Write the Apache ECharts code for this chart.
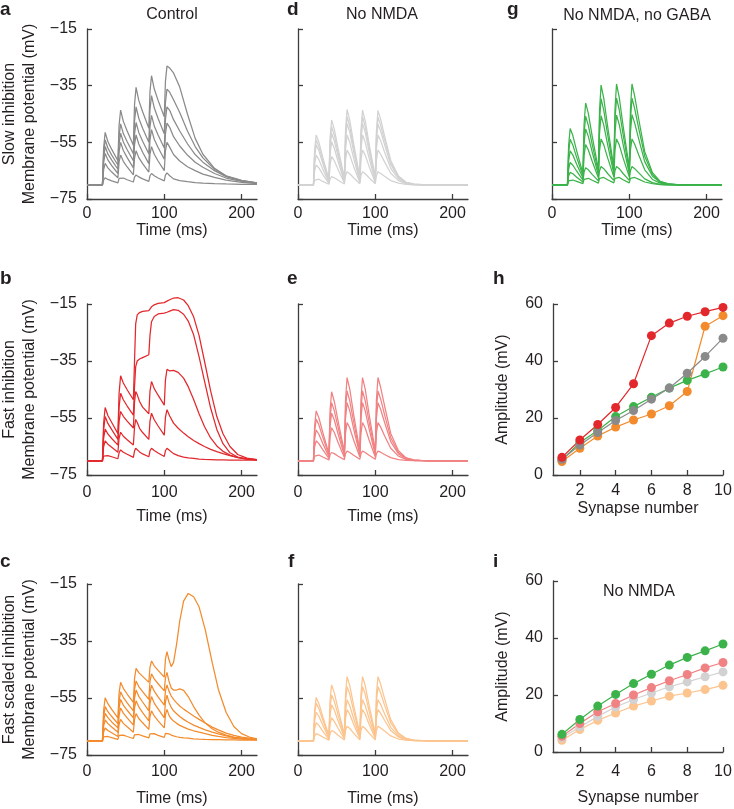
<!DOCTYPE html>
<html>
<head>
<meta charset="utf-8">
<script src="https://cdn.jsdelivr.net/npm/echarts@6/dist/echarts.min.js"></script>
<style>
html,body{margin:0;padding:0;background:#fff;}
#chart{width:734px;height:809px;}
</style>
</head>
<body>
<div id="chart"></div>
<script>
// ---------------- DATA ----------------
const TIME_STD = [0,20,21.5,23.5,27,32,40,41.5,43.5,47,52,60,61.5,63.5,67,72,80,81.5,83.5,87,92,100,101.5,103.5,107,112,120,130,140,150,165,180,200,220];
const TIME_B = [0,20,21.5,23.5,27,32,40,41.5,43.5,47,52,60,61.5,63,65,68,72,80,81.5,83.5,87,92,100,101.5,103.5,107,112,118,125,131,138,145,152,160,168,176,185,195,207,220];
const TIME_C = [0,20,21.5,23.5,27,32,40,41.5,43.5,47,52,60,61.5,63.5,67,72,80,81.5,83.5,87,92,100,101.5,103.5,106,109,112,116,120,125,131,138,145,153,162,170,180,190,200,210,220];

// a: Control, slow inhibition
const TRACES_A = [
  [-70,-70,-68.3,-67.5,-68.1,-68.6,-69.3,-67.7,-67,-67.6,-68.2,-69,-67.3,-66.5,-67.2,-67.9,-68.8,-66.8,-66,-66.8,-67.6,-68.6,-66.6,-65.8,-66.8,-67.9,-68.5,-68.9,-69.2,-69.4,-69.6,-69.7,-69.8,-69.8],
  [-70,-70,-64.7,-62.4,-64,-65.5,-67.5,-61.9,-59.5,-61.7,-63.7,-66.5,-60.6,-58,-60.4,-62.5,-65.5,-59.2,-56.5,-59.2,-61.6,-65,-58,-55,-56.7,-59.3,-61.6,-63.6,-65,-66.2,-67.4,-68.3,-69.1,-69.6],
  [-70,-70,-62.2,-58.9,-61.2,-63.2,-66,-58.3,-55,-57.9,-60.4,-64,-55.9,-52.4,-55.6,-58.5,-62.5,-54.1,-50.5,-53.9,-56.8,-61,-52,-48.2,-49.7,-53,-56.3,-59.5,-62,-63.8,-66,-67.6,-68.8,-69.5],
  [-70,-70,-60.6,-56.5,-59.1,-61.3,-64.5,-55.6,-51.8,-54.9,-57.6,-61.5,-52.1,-48,-51.5,-54.6,-59,-49.6,-45.5,-49.2,-52.4,-57,-46.9,-42.5,-43.7,-47,-51,-55.5,-59.3,-62,-65,-67.1,-68.6,-69.4],
  [-70,-70,-58.9,-54.2,-57,-59.5,-63,-52.9,-48.5,-51.9,-54.8,-59,-47.5,-42.5,-46.5,-50,-55,-43.5,-38.5,-42.8,-46.6,-52,-40.9,-36.2,-37.3,-40,-44.5,-51,-56.5,-60.5,-64.5,-66.9,-68.5,-69.3],
  [-70,-70,-57.1,-51.5,-54.7,-57.5,-61.5,-49,-43.6,-47.6,-51,-56,-41.7,-35.6,-40.2,-44.2,-50,-37.1,-31.5,-36.1,-40.2,-46,-33.5,-28.1,-28.8,-30.5,-35.5,-45,-53.6,-59.2,-64.2,-66.8,-68.4,-69.3]
];
// d: No NMDA, slow inhibition
const TRACES_D = [
  [-70,-70,-68.4,-67.7,-68,-68.8,-69.8,-67.9,-67.1,-67.5,-68.4,-69.7,-66.7,-65.4,-66.1,-67.5,-69.6,-66.7,-65.4,-66.1,-67.5,-69.6,-66.7,-65.4,-66,-67,-68.5,-69.4,-69.8,-70,-70,-70,-70,-70],
  [-70,-70,-65.1,-63,-64,-66.3,-69.5,-62.9,-60,-61.5,-64.7,-69.3,-61.2,-57.7,-59.5,-63.5,-69.2,-61.2,-57.7,-59.5,-63.5,-69.2,-61.2,-57.7,-59.2,-61.9,-65.9,-68.5,-69.6,-69.9,-70,-70,-70,-70],
  [-70,-70,-62.7,-59.5,-61.1,-64.4,-69.2,-59.1,-54.8,-57.1,-61.9,-68.9,-57.4,-52.4,-55,-60.6,-68.8,-57.3,-52.4,-55,-60.6,-68.8,-57.3,-52.4,-54.5,-58.4,-64.2,-67.9,-69.4,-69.8,-70,-70,-70,-70],
  [-70,-70,-60.1,-55.9,-58,-62.4,-68.8,-56.9,-51.8,-54.5,-60.1,-68.4,-54.3,-48.3,-51.5,-58.3,-68.2,-54.3,-48.3,-51.5,-58.3,-68.2,-54.4,-48.5,-51.1,-55.8,-62.9,-67.4,-69.2,-69.8,-70,-70,-70,-70],
  [-70,-70,-58.9,-54.2,-56.5,-61.4,-68.5,-55.2,-49.5,-52.5,-58.8,-68,-52.5,-45.9,-49.4,-56.9,-67.8,-52.5,-45.9,-49.4,-56.9,-67.8,-52.6,-46.1,-49,-54.2,-62.1,-67.1,-69.2,-69.8,-70,-70,-70,-70],
  [-70,-70,-57.7,-52.4,-54.9,-60.2,-68,-53.4,-47.1,-50.4,-57.3,-67.5,-50.6,-43.4,-47.2,-55.4,-67.3,-50.7,-43.6,-47.4,-55.5,-67.3,-50.9,-43.8,-46.9,-52.7,-61.4,-66.9,-69.1,-69.7,-70,-70,-70,-70]
];
// g: No NMDA, no GABA
const TRACES_G = [
  [-70,-70,-68.6,-68,-68.3,-68.8,-69.6,-68.1,-67.4,-67.7,-68.4,-69.4,-67.7,-67,-67.4,-68.2,-69.3,-67.7,-67,-67.4,-68.2,-69.3,-67.7,-67,-67.4,-68,-69,-69.6,-69.9,-70,-70,-70,-70,-70],
  [-70,-70,-66.9,-65.6,-66.1,-67.3,-69,-65.5,-64,-64.7,-66.3,-68.6,-65,-63.5,-64.3,-66,-68.4,-65,-63.5,-64.3,-66,-68.4,-65,-63.5,-64.3,-65.7,-67.9,-69.2,-69.8,-70,-70,-70,-70,-70],
  [-70,-70,-64.5,-62.1,-63.1,-65.2,-68.3,-59.6,-55.8,-57.7,-61.7,-67.5,-57.9,-53.8,-55.9,-60.5,-67.2,-57.8,-53.8,-55.9,-60.5,-67.2,-57.8,-53.8,-55.7,-59.3,-64.7,-68.1,-69.4,-69.8,-70,-70,-70,-70],
  [-70,-70,-61.6,-58,-59.5,-62.8,-67.5,-55.5,-50.3,-52.9,-58.4,-66.5,-51.9,-45.6,-48.9,-55.8,-66,-51.6,-45.4,-48.7,-55.7,-66,-51.4,-45.2,-48.2,-53.6,-61.8,-67,-69.1,-69.8,-70,-70,-70,-70],
  [-70,-70,-58.7,-53.9,-56,-60.4,-66.8,-52.1,-45.8,-49,-55.7,-65.5,-47.4,-39.6,-43.7,-52.3,-65,-47.1,-39.4,-43.5,-52.2,-65,-47.1,-39.4,-43.1,-49.8,-59.9,-66.3,-68.9,-69.7,-70,-70,-70,-70],
  [-70,-70,-56.1,-50.1,-52.6,-58.1,-66,-48.6,-41.1,-44.8,-52.8,-64.5,-43.7,-34.8,-39.5,-49.4,-64,-43.3,-34.4,-39.1,-49.2,-64,-43.3,-34.4,-38.7,-46.5,-58.3,-65.7,-68.8,-69.6,-70,-70,-70,-70]
];
// b: Control, fast inhibition
const TRACES_B = [
  [-70,-70,-68.4,-67.7,-68.2,-68.6,-69.3,-67.2,-66.2,-67,-67.7,-68.8,-66.6,-65.6,-66.1,-66.9,-67.6,-68.6,-66.5,-65.6,-66.4,-67.3,-68.5,-66.5,-65.6,-66.4,-67.5,-68.2,-68.7,-69,-69.2,-69.4,-69.5,-69.6,-69.7,-69.7,-69.8,-69.8,-69.8,-69.8],
  [-70,-70,-65.1,-63,-64.2,-65.3,-67,-62.1,-60,-61.4,-62.6,-64.5,-58.2,-55.5,-56.6,-58.6,-60.1,-62.5,-56.1,-53.3,-55.6,-57.8,-61,-54.8,-52.1,-54.3,-56.8,-58.6,-60.3,-61.6,-62.9,-64,-65,-66,-66.8,-67.5,-68.2,-68.8,-69.3,-69.6],
  [-70,-70,-62.2,-58.9,-60.6,-62.2,-64.5,-56.2,-52.7,-54.4,-56.1,-58.5,-49.5,-45.7,-46.8,-49.2,-51.2,-53.5,-45.6,-42.2,-44.7,-47,-50.5,-41.7,-37.9,-38.5,-38.3,-39,-41,-44,-48.5,-53.5,-58,-62,-64.8,-66.7,-68,-68.9,-69.4,-69.7],
  [-70,-70,-59.2,-54.5,-56.9,-59.1,-62.5,-51.2,-46.3,-48.6,-50.8,-54,-44,-37,-35,-34.3,-33.8,-32.8,-26,-21.2,-19.4,-18.5,-18.2,-18.1,-17.9,-17.5,-17,-17.2,-18.6,-21,-25.8,-33.5,-42,-51.5,-59,-64,-67.2,-68.7,-69.4,-69.7],
  [-70,-70,-56.9,-51.3,-54.1,-56.6,-60.5,-46.3,-40.2,-42.7,-45.1,-48.6,-35,-22,-18.8,-18,-17.6,-17.3,-16.6,-16,-15.3,-14.8,-14.5,-14.3,-14,-13.5,-12.9,-12.8,-13.6,-15.6,-19.5,-26,-35,-45.5,-54.5,-60.5,-65,-67.8,-69.1,-69.6]
];
// e: No NMDA, fast inhibition
const TRACES_E = [
  [-70,-70,-68.4,-67.7,-68,-68.7,-69.7,-67.9,-67.1,-67.5,-68.4,-69.6,-67.5,-66.6,-67.1,-68.1,-69.5,-67.5,-66.6,-67.1,-68.1,-69.5,-67.5,-66.6,-67,-67.8,-68.9,-69.6,-69.9,-70,-70,-70,-70,-70],
  [-70,-70,-65.1,-63,-64,-66.1,-69.2,-61.6,-58.4,-60.1,-63.7,-68.9,-60.3,-56.6,-58.5,-62.7,-68.7,-60.2,-56.6,-58.5,-62.7,-68.7,-60.2,-56.6,-58.2,-61.2,-65.6,-68.4,-69.5,-69.9,-70,-70,-70,-70],
  [-70,-70,-62.4,-59.2,-60.7,-63.9,-68.6,-57.9,-53.3,-55.7,-60.7,-68.1,-55.2,-49.6,-52.5,-58.8,-67.9,-55.1,-49.6,-52.5,-58.8,-67.9,-55.1,-49.6,-52,-56.5,-63.3,-67.6,-69.3,-69.8,-70,-70,-70,-70],
  [-70,-70,-59.8,-55.4,-57.4,-61.7,-68,-55.1,-49.6,-52.5,-58.5,-67.4,-52.1,-45.5,-49,-56.4,-67.2,-52,-45.5,-49,-56.4,-67.2,-52,-45.5,-48.4,-53.8,-61.9,-67.1,-69.1,-69.8,-70,-70,-70,-70],
  [-70,-70,-57.8,-52.5,-54.9,-60,-67.5,-52.3,-45.8,-49.2,-56.3,-66.8,-48.6,-40.8,-44.9,-53.7,-66.5,-48.5,-40.8,-44.9,-53.7,-66.5,-48.5,-40.8,-44.3,-50.7,-60.4,-66.5,-69,-69.7,-70,-70,-70,-70]
];
// c: Control, fast scaled inhibition
const TRACES_C = [
  [-70,-70,-68.6,-68,-68.5,-68.9,-69.5,-68.1,-67.5,-68,-68.5,-69.2,-67.9,-67.3,-67.8,-68.3,-69,-67.6,-67,-67.5,-68.1,-68.8,-67.4,-66.8,-67.6,-68,-68.3,-68.6,-68.8,-69,-69.1,-69.3,-69.4,-69.5,-69.6,-69.6,-69.7,-69.7,-69.8,-69.8,-69.8],
  [-70,-70,-66.9,-65.5,-66.4,-67.2,-68.5,-64.3,-62.5,-63.9,-65.1,-67,-62.5,-60.5,-62.2,-63.7,-66,-61.5,-59.5,-61.3,-63,-65.5,-61,-59,-61,-62.3,-63.1,-63.9,-64.6,-65.2,-65.9,-66.5,-67,-67.5,-68.1,-68.5,-68.9,-69.2,-69.4,-69.5,-69.6],
  [-70,-70,-64.9,-62.7,-64,-65.2,-67,-61.1,-58.5,-60.3,-62,-64.5,-58.5,-56,-58.1,-60.1,-63,-57,-54.5,-56.8,-58.8,-62,-56.4,-54,-56.5,-58.3,-59.5,-60.5,-61.5,-62.5,-63.5,-64.5,-65.3,-66.2,-67,-67.6,-68.3,-68.8,-69.1,-69.4,-69.5],
  [-70,-70,-63.3,-60.4,-61.9,-63.4,-65.5,-58.5,-55.5,-57.5,-59.3,-62,-55.1,-52.2,-54.4,-56.4,-59.5,-53.2,-50.5,-52.6,-54.6,-57.5,-52.5,-50.4,-52.5,-54.3,-55.5,-56.7,-57.8,-58.9,-60,-61.3,-62.5,-63.8,-65.2,-66.2,-67.3,-68.1,-68.7,-69.1,-69.4],
  [-70,-70,-61.6,-58,-59.8,-61.5,-64,-56.2,-52.8,-54.8,-56.7,-59.5,-52.1,-49,-51,-52.8,-55.5,-49.2,-46.5,-48.3,-50,-52.5,-48,-46,-49,-51.5,-52.2,-52.2,-51.8,-52.3,-54.5,-58,-61,-63.8,-65.8,-67,-68,-68.7,-69.2,-69.5,-69.6],
  [-70,-70,-59.4,-54.9,-57,-59,-62,-53.3,-49.5,-51.6,-53.6,-56.5,-48.2,-44.6,-46.1,-47.4,-49.5,-44.3,-42,-43.7,-45.3,-47.7,-41.4,-38.7,-41.5,-44,-42.5,-36,-28,-21,-18.3,-19.5,-23,-31,-42.5,-52,-60,-65,-67.5,-68.7,-69.3]
];
// f: No NMDA, fast scaled inhibition
const TRACES_F = [
  [-70,-70,-68.3,-67.5,-67.9,-68.7,-69.8,-67.4,-66.4,-66.9,-68.1,-69.7,-66.3,-64.9,-65.7,-67.3,-69.7,-66.3,-64.9,-65.7,-67.3,-69.7,-66.3,-64.9,-65.5,-66.6,-68.3,-69.4,-69.8,-70,-70,-70,-70,-70],
  [-70,-70,-65.6,-63.7,-64.6,-66.6,-69.4,-64.2,-62,-63.2,-65.7,-69.3,-62.2,-59.1,-60.7,-64.2,-69.2,-62.1,-59.1,-60.7,-64.2,-69.2,-62.1,-59.1,-60.4,-62.8,-66.4,-68.7,-69.6,-69.9,-70,-70,-70,-70],
  [-70,-70,-63,-60,-61.4,-64.5,-69,-60.9,-57.4,-59.2,-63.1,-68.8,-59.6,-55.6,-57.7,-62.2,-68.7,-59.5,-55.6,-57.7,-62.2,-68.7,-59.5,-55.6,-57.3,-60.5,-65.3,-68.3,-69.5,-69.9,-70,-70,-70,-70],
  [-70,-70,-60.8,-56.8,-58.7,-62.7,-68.6,-58.3,-53.9,-56.2,-61.1,-68.3,-56.2,-51,-53.7,-59.6,-68.1,-56.1,-51,-53.7,-59.6,-68.1,-56.1,-51,-53.3,-57.5,-63.7,-67.7,-69.3,-69.8,-70,-70,-70,-70],
  [-70,-70,-59.4,-54.8,-56.9,-61.5,-68.2,-55.7,-50.4,-53.2,-59.1,-67.8,-53.6,-47.5,-50.7,-57.6,-67.6,-53.5,-47.5,-50.7,-57.6,-67.6,-53.5,-47.5,-50.2,-55.2,-62.6,-67.3,-69.2,-69.8,-70,-70,-70,-70]
];

// h, i: amplitude vs synapse number
const SYNAPSES = [1,2,3,4,5,6,7,8,9,10];
const AMP_H_GREEN  = [5.3,11.4,15.6,20.5,24.0,27.3,30.5,33.2,35.5,37.9];
const AMP_H_ORANGE = [4.7,9.4,13.7,16.8,19.3,21.4,24.3,29.3,52.2,55.9];
const AMP_H_GRAY   = [5.5,10.5,14.9,19.1,22.6,26.6,30.5,35.7,41.6,48.0];
const AMP_H_RED    = [6.2,12.3,17.7,23.7,32.0,48.9,53.3,55.7,57.3,58.8];
const AMP_I_LORANGE = [4.1,7.9,11.1,13.7,16.1,17.9,19.6,20.7,21.9,23.4];
const AMP_I_LGRAY   = [5.0,8.8,12.5,15.8,18.4,20.7,22.9,24.6,26.4,28.1];
const AMP_I_PINK    = [5.5,10.0,14.1,17.0,20.0,22.6,25.0,27.2,29.5,31.4];
const AMP_I_GREEN   = [6.2,11.4,16.1,20.2,24.0,27.3,30.5,33.2,35.5,37.9];

const TIME_TICKS = [0,100,200];
const MV_TICKS = [-75,-55,-35,-15];
const AMP_TICKS = [0,20,40,60];
const SYN_TICKS = [2,4,6,8,10];

// ---------------- LAYOUT ----------------
const FONT = "'Liberation Sans', Arial, Helvetica, sans-serif";
const FS = 16;
const TXT = '#231f20';
const AX = '#3d3d3d';
const C_GRAY='#8a8a8a', C_LGRAY='#d2d2d2', C_GREEN='#3bb34a', C_RED='#e2282c', C_PINK='#f08283', C_ORANGE='#f38b2c', C_LORANGE='#fcc48e';

// panel order: a d g / b e h / c f i
const panels = [
  {left:87, top:29, h:170, kind:'v', label:true, lm:7, ng:22, yname:'Slow inhibition\nMembrane potential (mV)'},
  {left:298,top:29, h:170, kind:'v', label:false, lm:7, ng:22},
  {left:552,top:29, h:170, kind:'v', label:false, lm:7, ng:22},
  {left:87, top:304,h:171, kind:'v', label:true, lm:10, ng:34, yname:'Fast inhibition\nMembrane potential (mV)'},
  {left:298,top:304,h:171, kind:'v', label:false, lm:10, ng:34},
  {left:553,top:304,h:171, kind:'amp', lm:8, ng:26},
  {left:87, top:584,h:171, kind:'v', label:true, lm:9, ng:36, yname:'Fast scaled inhibition\nMembrane potential (mV)'},
  {left:298,top:584,h:171, kind:'v', label:false, lm:9, ng:36},
  {left:553,top:581,h:171, kind:'amp', lm:12, ng:38}
];

const minus = v => String(v).replace('-', '\u2212');
const grids=[], xAxes=[], yAxes=[];
panels.forEach((p,i)=>{
  grids.push({left:p.left, top:p.top, width:170, height:p.h, containLabel:false, outerBoundsMode:'none'});
  const axLine = {show:true, onZero:false, lineStyle:{color:AX, width:1.3}};
  const tick = {show:true, inside:true, length:5, lineStyle:{color:AX, width:1.3}};
  const nameStyle = {fontSize:FS, color:TXT, fontFamily:FONT};
  if (p.kind==='v') {
    xAxes.push({type:'value', gridIndex:i, min:0, max:220,
      axisLine:axLine, axisTick:Object.assign({customValues:TIME_TICKS}, tick),
      axisLabel:{customValues:TIME_TICKS, fontSize:FS, color:TXT, fontFamily:FONT, margin:p.lm},
      splitLine:{show:false}, name:'Time (ms)', nameLocation:'middle', nameGap:p.ng, nameTextStyle:nameStyle});
    yAxes.push({type:'value', gridIndex:i, min:-75, max:-15,
      axisLine:axLine, axisTick:Object.assign({customValues:MV_TICKS}, tick),
      axisLabel:{show:p.label, customValues:MV_TICKS, fontSize:FS, color:TXT, fontFamily:FONT, margin:10, formatter:minus},
      splitLine:{show:false},
      name:p.yname||'', nameLocation:'middle', nameRotate:90, nameGap:47,
      nameTextStyle:Object.assign({lineHeight:20}, nameStyle)});
  } else {
    xAxes.push({type:'value', gridIndex:i, min:0.5, max:10,
      axisLine:axLine, axisTick:Object.assign({customValues:SYN_TICKS}, tick),
      axisLabel:{customValues:SYN_TICKS, fontSize:FS, color:TXT, fontFamily:FONT, margin:p.lm},
      splitLine:{show:false}, name:'Synapse number', nameLocation:'middle', nameGap:p.ng, nameTextStyle:nameStyle});
    yAxes.push({type:'value', gridIndex:i, min:0, max:60,
      axisLine:axLine, axisTick:Object.assign({customValues:AMP_TICKS}, tick),
      axisLabel:{customValues:AMP_TICKS, fontSize:FS, color:TXT, fontFamily:FONT, margin:10},
      splitLine:{show:false}, name:'Amplitude (mV)', nameLocation:'middle', nameRotate:90, nameGap:42,
      nameTextStyle:nameStyle});
  }
});

const series = [];
function addTraces(idx, times, traces, color){
  traces.forEach(v=>{
    series.push({type:'line', xAxisIndex:idx, yAxisIndex:idx, showSymbol:false, silent:true, clip:false,
      data: times.map((t,k)=>[t, v[k]]), lineStyle:{color:color, width:1.25}, itemStyle:{color:color}});
  });
}
function addAmp(idx, vals, color){
  series.push({type:'line', xAxisIndex:idx, yAxisIndex:idx, symbol:'circle', symbolSize:9, silent:true, clip:false,
    data: SYNAPSES.map((s,k)=>[s, vals[k]]), lineStyle:{color:color, width:1.2}, itemStyle:{color:color}});
}
addTraces(0, TIME_STD, TRACES_A, C_GRAY);
addTraces(1, TIME_STD, TRACES_D, C_LGRAY);
addTraces(2, TIME_STD, TRACES_G, C_GREEN);
addTraces(3, TIME_B, TRACES_B, C_RED);
addTraces(4, TIME_STD, TRACES_E, C_PINK);
addAmp(5, AMP_H_GREEN, C_GREEN);
addAmp(5, AMP_H_ORANGE, C_ORANGE);
addAmp(5, AMP_H_GRAY, C_GRAY);
addAmp(5, AMP_H_RED, C_RED);
addTraces(6, TIME_C, TRACES_C, C_ORANGE);
addTraces(7, TIME_STD, TRACES_F, C_LORANGE);
addAmp(8, AMP_I_LORANGE, C_LORANGE);
addAmp(8, AMP_I_LGRAY, C_LGRAY);
addAmp(8, AMP_I_PINK, C_PINK);
addAmp(8, AMP_I_GREEN, C_GREEN);

function txt(x,y,s,opt){
  return {type:'text', x:x, y:y, silent:true, style:Object.assign({text:s, fill:TXT, font:FS+'px '+FONT, textAlign:'center', textVerticalAlign:'middle'}, opt||{})};
}
const bold = {font:'bold 19px '+FONT, textAlign:'left'};
const graphics = [
  txt(0,10,'a',bold), txt(287,10,'d',bold), txt(507,10,'g',bold),
  txt(0,279,'b',bold), txt(287,279,'e',bold), txt(493,279,'h',bold),
  txt(0,562,'c',bold), txt(288,562,'f',bold), txt(493,562,'i',bold),
  txt(172,15,'Control'), txt(382,15,'No NMDA'), txt(637,16,'No NMDA, no GABA'),
  txt(639,592,'No NMDA')
];

const chart = echarts.init(document.getElementById('chart'), null, {renderer:'canvas'});
chart.setOption({
  animation:false,
  backgroundColor:'#ffffff',
  grid:grids, xAxis:xAxes, yAxis:yAxes, series:series,
  graphic:graphics
});
</script>
</body>
</html>
